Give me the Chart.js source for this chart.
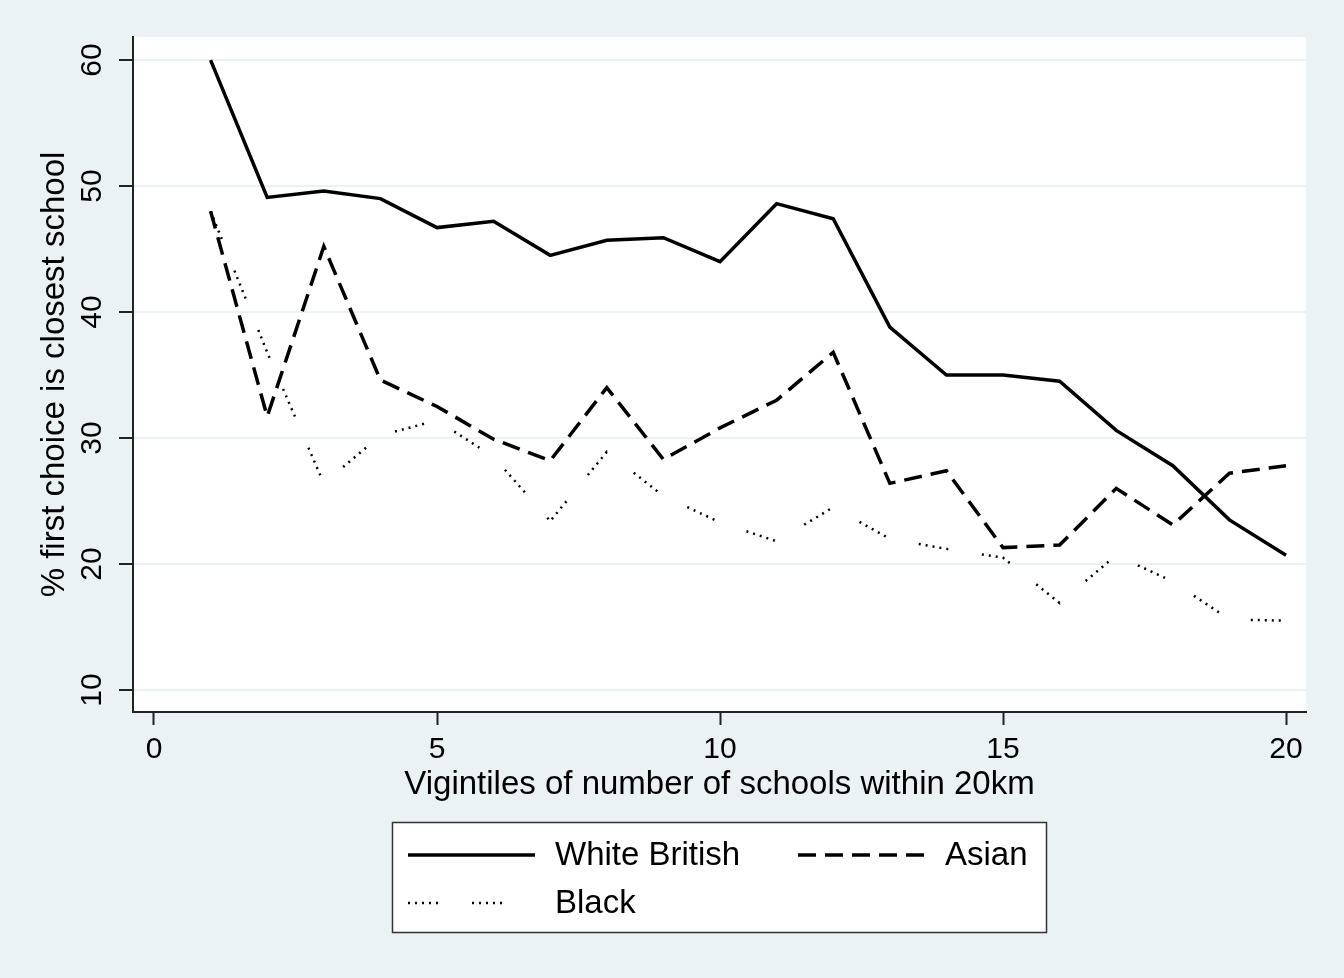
<!DOCTYPE html>
<html>
<head>
<meta charset="utf-8">
<script src="https://cdn.jsdelivr.net/npm/chart.js@4/dist/chart.umd.min.js"></script>
<style>
  html, body { margin: 0; padding: 0; background: #eaf2f3; }
  #wrap { width: 1344px; height: 978px; }
</style>
</head>
<body>
<div id="wrap"><canvas id="myChart" width="1344" height="978"></canvas></div>
<script>
const vigintiles = [1, 2, 3, 4, 5, 6, 7, 8, 9, 10, 11, 12, 13, 14, 15, 16, 17, 18, 19, 20];
const whiteBritish = [60, 49.1, 49.6, 49.0, 46.7, 47.2, 44.5, 45.7, 45.9, 44.0, 48.6, 47.4, 38.8, 35.0, 35.0, 34.5, 30.6, 27.8, 23.5, 20.7];
const asian = [48, 31.7, 45.2, 34.6, 32.5, 29.9, 28.2, 34.0, 28.3, 30.8, 33.0, 36.8, 26.4, 27.4, 21.3, 21.5, 26.0, 23.1, 27.2, 27.8];
const black = [48, 36.8, 26.4, 30.2, 31.4, 28.5, 23.4, 28.9, 25.4, 23.3, 21.8, 24.5, 22.0, 21.2, 20.5, 16.9, 20.7, 18.6, 15.6, 15.5];
const xTicks = [0, 5, 10, 15, 20];
const yTicks = [10, 20, 30, 40, 50, 60];

const toPoints = vals => vals.map((v, i) => ({ x: vigintiles[i], y: v }));

const bgColor = '#eaf2f3';
const axisColor = '#222';
const fontFamily = '"Liberation Sans", Arial, sans-serif';

const backgrounds = {
  id: 'backgrounds',
  beforeDraw(chart) {
    const { ctx, chartArea: a } = chart;
    ctx.save();
    ctx.fillStyle = bgColor;
    ctx.fillRect(0, 0, chart.width, chart.height);
    ctx.fillStyle = '#fff';
    ctx.fillRect(a.left, a.top, a.right - a.left, a.bottom - a.top);
    ctx.restore();
  }
};

// legend box like Stata: two columns, sample line then label
const stataLegend = {
  id: 'stataLegend',
  afterDraw(chart) {
    const ctx = chart.ctx;
    const box = { x: 392.5, y: 822.5, w: 654, h: 110 };
    const slots = [
      { x: 408, y: 855 },
      { x: 798, y: 855 },
      { x: 408, y: 903 }
    ];
    ctx.save();
    ctx.fillStyle = '#fff';
    ctx.fillRect(box.x, box.y, box.w, box.h);
    ctx.strokeStyle = '#333';
    ctx.lineWidth = 1.5;
    ctx.strokeRect(box.x, box.y, box.w, box.h);
    chart.data.datasets.forEach((ds, i) => {
      const s = slots[i];
      ctx.beginPath();
      ctx.setLineDash(ds.borderDash || []);
      ctx.lineWidth = ds.borderWidth;
      ctx.strokeStyle = ds.borderColor;
      ctx.moveTo(s.x, s.y);
      ctx.lineTo(s.x + 127, s.y);
      ctx.stroke();
      ctx.setLineDash([]);
      ctx.fillStyle = '#000';
      ctx.font = '33px ' + fontFamily;
      ctx.textBaseline = 'middle';
      ctx.fillText(ds.label, s.x + 147, s.y + 1);
    });
    ctx.restore();
  }
};

new Chart(document.getElementById('myChart'), {
  type: 'line',
  data: {
    datasets: [
      { label: 'White British', data: toPoints(whiteBritish), borderColor: '#000', borderWidth: 3.5, borderDash: [] },
      { label: 'Asian', data: toPoints(asian), borderColor: '#000', borderWidth: 3.5, borderDash: [18, 9] },
      { label: 'Black', data: toPoints(black), borderColor: '#000', borderWidth: 2.5,
        borderDash: [2, 5, 2, 5, 2, 5, 2, 5, 2, 34] }
    ]
  },
  options: {
    responsive: false,
    animation: false,
    layout: { padding: { top: 37, right: 38, bottom: 173, left: 0 } },
    elements: { point: { radius: 0 }, line: { tension: 0 } },
    plugins: { legend: { display: false }, tooltip: { enabled: false } },
    scales: {
      x: {
        type: 'linear',
        min: -0.371,
        max: 20.353,
        afterBuildTicks: s => { s.ticks = xTicks.map(v => ({ value: v })); },
        afterFit: s => { s.height = 93; },
        grid: { drawOnChartArea: false, tickLength: 13, tickColor: axisColor, tickWidth: 2 },
        border: { color: axisColor, width: 2 },
        ticks: { color: '#000', padding: 7, font: { family: fontFamily, size: 30 }, maxRotation: 0 },
        title: {
          display: true,
          text: 'Vigintiles of number of schools within 20km',
          color: '#000',
          font: { family: fontFamily, size: 33 },
          padding: 0
        }
      },
      y: {
        min: 8.25,
        max: 61.83,
        afterBuildTicks: s => { s.ticks = yTicks.map(v => ({ value: v })); },
        afterFit: s => { s.width = 133; },
        grid: { color: bgColor, lineWidth: 2, tickLength: 14, tickColor: axisColor, tickWidth: 2 },
        border: { color: axisColor, width: 2 },
        ticks: {
          color: '#000',
          minRotation: 90,
          maxRotation: 90,
          crossAlign: 'center',
          padding: 10,
          font: { family: fontFamily, size: 30 }
        },
        title: {
          display: true,
          text: '% first choice is closest school',
          color: '#000',
          font: { family: fontFamily, size: 33 },
          padding: { top: 35, bottom: 0 }
        }
      }
    }
  },
  plugins: [backgrounds, stataLegend]
});
</script>
</body>
</html>
